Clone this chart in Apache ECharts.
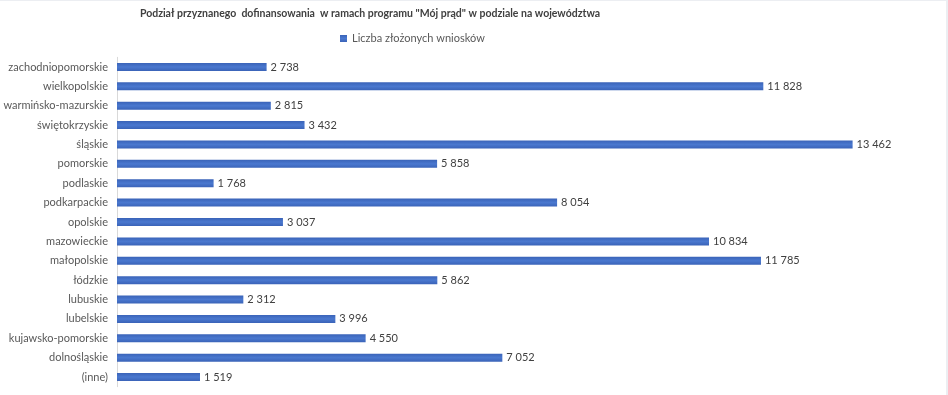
<!DOCTYPE html>
<html><head><meta charset="utf-8">
<script src="https://cdn.jsdelivr.net/npm/echarts@6/dist/echarts.min.js"></script>
<style>html,body{margin:0;padding:0;background:#fff}#c{width:948px;height:395px}
#bt{position:absolute;left:0;top:0;width:948px;height:1px;background:#eceef2}
#br{position:absolute;left:946px;top:0;width:2px;height:395px;background:#eceef2}</style>
</head><body><div id="c"></div><div id="bt"></div><div id="br"></div>
<script>
const title = 'Podział przyznanego  dofinansowania  w ramach programu "Mój prąd" w podziale na województwa';
const seriesName = 'Liczba złożonych wniosków';
const categories = ['zachodniopomorskie','wielkopolskie','warmińsko-mazurskie','świętokrzyskie','śląskie','pomorskie','podlaskie','podkarpackie','opolskie','mazowieckie','małopolskie','łódzkie','lubuskie','lubelskie','kujawsko-pomorskie','dolnośląskie','(inne)'];
const values = [2738,11828,2815,3432,13462,5858,1768,8054,3037,10834,11785,5862,2312,3996,4550,7052,1519];

const fmt = v => String(v).replace(/\B(?=(\d{3})+(?!\d))/g, ' ');
const font = 'Lato, "Liberation Sans", sans-serif';
const chart = echarts.init(document.getElementById('c'));
chart.setOption({
  animation: false,
  backgroundColor: '#fff',
  title: { text: title, left: 365, textAlign: 'center', top: 3,
    textStyle: { fontFamily: font, fontSize: 10.5, fontWeight: 'bold', color: '#404040' } },
  legend: { data: [seriesName], left: 335, top: 28, itemWidth: 7, itemHeight: 7, itemGap: 4,
    icon: 'rect', textStyle: { fontFamily: font, fontSize: 11, color: '#595959' } },
  grid: { left: 117, top: 57.3, width: 765, height: 329.4, containLabel: false },
  xAxis: { type: 'value', min: 0, max: 14000, show: false },
  yAxis: { type: 'category', data: categories, inverse: true,
    axisLine: { show: true, lineStyle: { color: '#d9d9d9' } },
    axisTick: { show: false },
    axisLabel: { fontFamily: font, fontSize: 11, color: '#595959', margin: 9 } },
  series: [{
    name: seriesName, type: 'bar', data: values, barWidth: 8,
    itemStyle: { color: new echarts.graphic.LinearGradient(0,0,0,1,[
      {offset:0,color:'#3a63b8'},{offset:0.5,color:'#4a78cf'},{offset:1,color:'#3a63b8'}]) },
    label: { show: true, position: 'right', distance: 4, formatter: p => fmt(p.value),
      fontFamily: font, fontSize: 11, color: '#404040' }
  }]
});
</script></body></html>
